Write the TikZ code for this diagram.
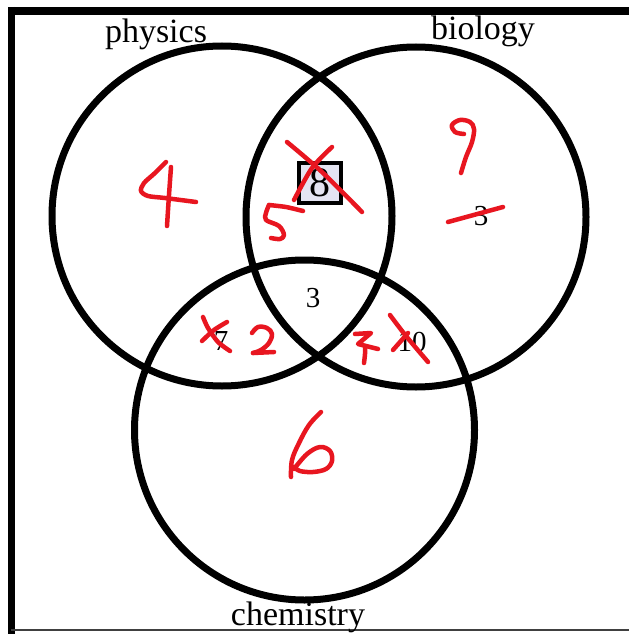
\documentclass[tikz,border=0pt]{standalone}
\usepackage{fontspec}
\setmainfont{Liberation Serif}
\begin{document}
\begin{tikzpicture}[x=1pt,y=-1pt,
  setc/.style={circle,draw=black,line width=7pt,minimum size=340pt,inner sep=0pt},
  lbl/.style={anchor=base,inner sep=0pt,font=\fontsize{34}{36}\selectfont},
  num/.style={inner sep=0pt,font=\fontsize{29}{31}\selectfont},
  pen/.style={draw={rgb,255:red,232;green,22;blue,32},line width=4.5pt,line cap=round,line join=round}]
\useasboundingbox (0,0) rectangle (629,634);
\fill[white] (0,0) rectangle (629,634);
% frame
\coordinate (tl) at (8,11);
\coordinate (tr) at (629,11);
\coordinate (lt) at (11.5,7);
\coordinate (lb) at (11.5,634);
\coordinate (bl) at (11,630);
\coordinate (br) at (629,630);
\draw[line width=8pt] (tl) -- (tr);
\draw[line width=7pt] (lt) -- (lb);
\draw[line width=2pt,black!75] (bl) -- (br);
% circles
\node[setc] (phys) at (222,216) {};
\node[setc] (bio) at (416,217) {};
\node[setc] (chem) at (304.5,430) {};
% labels
\node[lbl] (lphys) at (156,43) {physics};
\node[lbl] (lbio) at (483,40) {biology};
\node[lbl] (lchem) at (298,625) {chemistry};
% printed numbers
\node[draw=black,line width=4pt,fill={rgb,255:red,228;green,228;blue,242},minimum width=42pt,minimum height=40pt,inner sep=0pt,font=\fontsize{42}{44}\selectfont] (eight) at (320,183) {8};
\node[num] (three) at (313,298) {3};
\node[num] (seven) at (221,341) {7};
\node[num] (ten) at (412,342) {10};
\node[num] (bthree) at (481,216) {3};
% handwriting: 4
\draw[pen] plot[smooth,tension=0.5] coordinates {(166,162)(155,173)(144,183)(141,191)(148,196)(165,198)(196,202)};
\draw[pen] plot[smooth] coordinates {(171,167)(169,195)(167,226)};
% 9
\draw[pen] plot[smooth,tension=0.6] coordinates {(464,134)(455,132)(452,125)(460,120)(470,122)(474,129)(472,142)(466,157)(461,173)};
% 5
\draw[pen] plot[smooth,tension=0.4] coordinates {(303,211)(286,207)(269,205)};
\draw[pen] plot[smooth,tension=0.6] coordinates {(269,205)(266,213)(266,220)(279,226)(284,235)(280,239)(271,238)};
% X over 8
\draw[pen] plot[smooth] coordinates {(287,142)(322,172)(362,212)};
\draw[pen] plot[smooth] coordinates {(332,147)(312,168)(294,200)};
% 6
\draw[pen] plot[smooth,tension=0.6] coordinates {(321,412)(309,425)(299,443)(292,460)(291,477)};
\draw[pen] plot[smooth,tension=0.6] coordinates {(294,469)(307,454)(320,447)(330,451)(332,461)(326,469)(313,472)(300,471)(294,467)};
% X over 7 and 2
\draw[pen] plot[smooth] coordinates {(203,317)(208,328)(218,342)(230,351)};
\draw[pen] plot[smooth] coordinates {(227,322)(214,330)(202,341)};
\draw[pen] plot[smooth,tension=0.6] coordinates {(252,333)(258,327)(267,328)(272,334)(269,343)(261,350)(253,353)};
\draw[pen] (253,353) -- (274,352);
% red 7 and X over 10
\draw[pen] (355,334) -- (371,333) -- (358,344) -- (378,349);
\draw[pen] plot[smooth] coordinates {(365,346)(365,354)(364,363)};
\draw[pen] plot[smooth] coordinates {(390,315)(406,336)(428,362)};
\draw[pen] (408,333) -- (393,350);
% strike over 3
\draw[pen] (448,222) -- (503,207);
\end{tikzpicture}
\end{document}
